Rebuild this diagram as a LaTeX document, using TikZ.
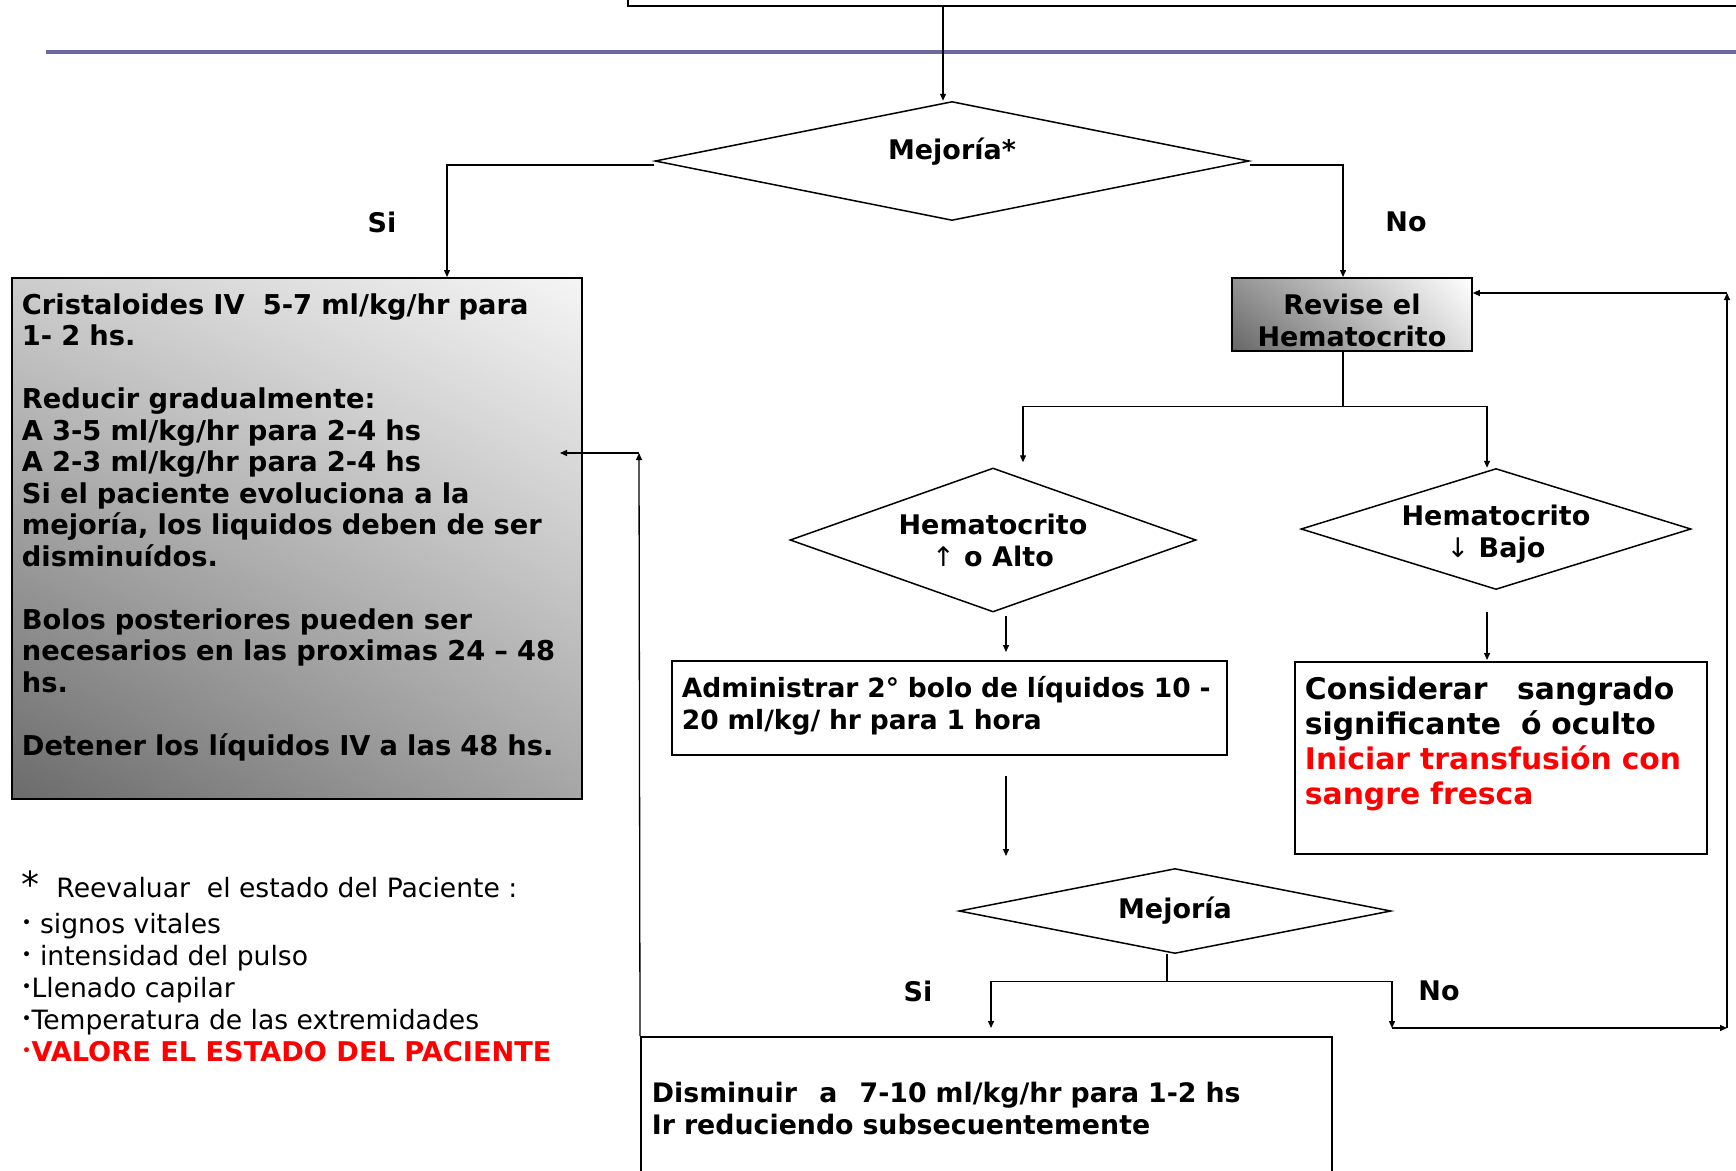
\documentclass[tikz,border=0pt]{standalone}
\usepackage{fontspec}
\setmainfont{DejaVu Sans}
\usetikzlibrary{arrows.meta,positioning,shapes.geometric,shadings}
\definecolor{slate}{HTML}{6A6AA2}
\definecolor{alarm}{HTML}{FF0000}
\newcommand{\lift}[1]{\rule[-#1]{0pt}{#1}}
\newcommand{\dotb}{\raisebox{0.3ex}{\fontsize{17}{17}\selectfont •}}

\begin{document}
\begin{tikzpicture}[x=1pt,y=-1pt,
  txt/.style={font=\bfseries\fontsize{27}{32}\selectfont},
  box/.style={draw,line width=1.8pt,inner ysep=0pt,anchor=north west,align=left,txt},
  dec/.style={diamond,draw,line width=1.5pt,inner sep=0pt,shape aspect=4,align=center,txt},
  arr/.style={line width=1.3pt,-{Triangle[length=7pt,width=6pt]}},
  lnk/.style={line width=1.3pt}]

  \useasboundingbox (0,0) rectangle (1736,1170);
  \clip (0,0) rectangle (1736,1170);
  \fill[white] (0,0) rectangle (1736,1170);

  % banner at the top
  \node[box,minimum width=1200pt,minimum height=60pt,anchor=south west] (top) at (627,7) {};
  \draw[slate,line width=3.5pt] (46,52) -- (1736,52);

  % decisions
  \node[dec,minimum width=594pt,minimum height=119pt] (mej) at (952,161) {Mejoría*\lift{24pt}};
  \node[dec,minimum width=406pt,minimum height=144pt] (alto) at (993,540) {Hematocrito\\{\mdseries ↑} o Alto};
  \node[dec,minimum width=390pt,minimum height=121pt,
        label={[txt,align=center,yshift=-5pt]center:Hematocrito\\{\mdseries ↓} Bajo}] (bajo) at (1496,529) {};
  \node[dec,minimum width=432pt,minimum height=85pt] (mejb) at (1175,911) {Mejoría};

  % boxes
  \node[box,minimum width=570pt,minimum height=521pt,inner xsep=10pt,text width=550pt,
        font=\bfseries\fontsize{27.3}{31.5}\selectfont,
        upper left=black!20,upper right=black!4,lower left=black!58,lower right=black!35] (cris) at (11,277)
    {Cristaloides IV\ \ 5-7 ml/kg/hr para\\
     1- 2 hs.\\[31.5pt]
     Reducir gradualmente:\\
     A 3-5 ml/kg/hr para 2-4 hs\\
     A 2-3 ml/kg/hr para 2-4 hs\\
     Si el paciente evoluciona a la\\
     mejoría, los liquidos deben de ser\\
     disminuídos.\\[31.5pt]
     Bolos posteriores pueden ser\\
     necesarios en las proximas 24 – 48\\
     hs.\\[31.5pt]
     Detener los líquidos IV a las 48 hs.\lift{28pt}};
  \node[box,minimum width=240pt,minimum height=73pt,align=center,
        upper left=black!42,upper right=white,lower left=black!60,lower right=black!12] (rev) at (1231,277)
    {\rule{0pt}{32pt}Revise el\\Hematocrito};
  \node[box,minimum width=555pt,minimum height=94pt,inner xsep=10pt,text width=535pt,
        font=\bfseries\fontsize{26.5}{32}\selectfont] (admin) at (671,660)
    {Administrar 2° bolo de líquidos 10 -\\20 ml/kg/ hr para 1 hora\lift{10pt}};
  \node[box,minimum width=412pt,minimum height=192pt,inner xsep=10pt,text width=392pt,
        font=\bfseries\fontsize{29.8}{35}\selectfont] (cons) at (1294,661)
    {Considerar\ \ \ sangrado\\significante\ \ ó oculto\\
     \textcolor{alarm}{Iniciar transfusión con}\\\textcolor{alarm}{sangre fresca}\lift{34pt}};
  \node[box,minimum width=691pt,minimum height=144pt,inner xsep=11pt,text width=669pt,
        font=\bfseries\fontsize{26.8}{32}\selectfont] (dism) at (640,1036)
    {Disminuir\ \ \,a\ \ \,7-10 ml/kg/hr para 1-2 hs\\Ir reduciendo subsecuentemente};

  % branch labels
  \node[txt] (si1) at (382,222) {Si};
  \node[txt] (no1) at (1406,222) {No};
  \node[txt] (si2) at (918,991) {Si};
  \node[txt] (no2) at (1439,991) {No};

  % footnote
  \node[anchor=north west,align=left,font=\fontsize{26.6}{32}\selectfont] (nota) at (18,867)
    {{\fontsize{36}{32}\selectfont *}\ \ Reevaluar\ \ el estado del Paciente :\\[4pt]
     \dotb\ signos vitales\\
     \dotb\ intensidad del pulso\\
     \dotb Llenado capilar\\
     \dotb Temperatura de las extremidades\\
     \textcolor{alarm}{\dotb\bfseries\fontsize{27.2}{32}\selectfont VALORE EL ESTADO DEL PACIENTE}};

  % connectors
  \coordinate (siX) at (447,0);
  \coordinate (noX) at (1343,0);
  \coordinate (topX) at (943,0);
  \coordinate (altoX) at (1023,0);
  \coordinate (bajoX) at (1487,0);
  \coordinate (bolX) at (1006,0);
  \draw[arr] (topX |- top.south) -- (topX |- mej.north);
  \draw[arr] ([yshift=-4pt]mej.west) -| (siX |- cris.north);
  \draw[arr] ([yshift=-4pt]mej.east) -| (noX |- rev.north);
  \draw[lnk] (noX |- rev.south) -- ++(0,55) coordinate (split1);
  \draw[arr] (split1) -| ([yshift=5pt]altoX |- alto.north);
  \draw[arr] (split1) -| (bajoX |- bajo.north);
  \draw[arr,shorten <=3pt] (bolX |- alto.south) -- ([yshift=8pt]bolX |- admin.north);
  \coordinate (bolEnd) at (1006,856);
  \draw[arr,shorten <=20pt] (bolX |- admin.south) -- (bolEnd);
  \draw[arr,shorten <=22pt,shorten >=1pt] (bajoX |- bajo.south) -- (bajoX |- cons.north);
  \coordinate (mejX) at (1167,0);
  \coordinate (dismX) at (991,0);
  \draw[lnk] (mejX |- mejb.south) -- ++(0,27) coordinate (split2);
  \coordinate (noEnd) at (1392,1028);
  \coordinate (loopSE) at (1727,1028);
  \coordinate (loopNE) at (1727,293);
  \draw[arr,shorten >=8pt] (split2) -| (dismX |- dism.north);
  \draw[arr] (split2) -| (noEnd);
  \draw[arr] (noEnd) -- (loopSE);
  \draw[arr] (loopSE) -- (loopNE);
  \draw[arr] (loopNE) -- (loopNE -| rev.east);
  \coordinate (loopNW) at (639,453);
  \coordinate (crisIn) at (560,453);
  \draw[arr] (dism.north west) -- (loopNW);
  \draw[arr] (loopNW) -- (crisIn);
\end{tikzpicture}
\end{document}
